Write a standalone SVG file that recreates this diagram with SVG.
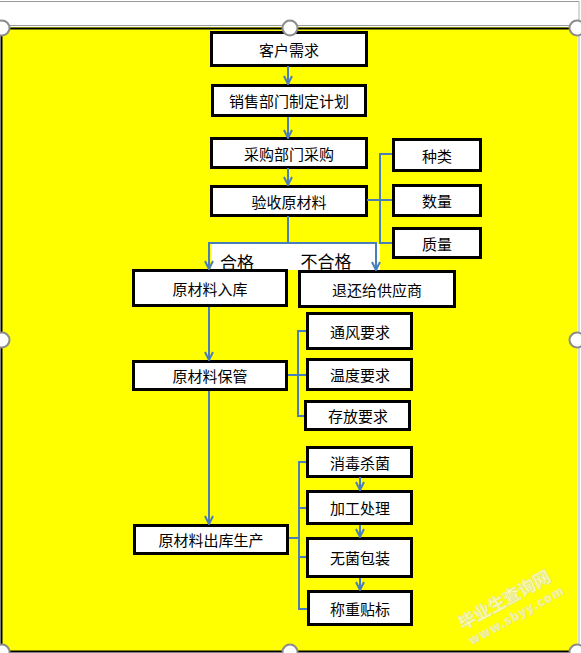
<svg xmlns="http://www.w3.org/2000/svg" width="581" height="653" viewBox="0 0 581 653">
<defs>
<style>
.bx{fill:#fff;stroke:#000;stroke-width:3}
.t{font-family:"Noto Sans CJK SC","Liberation Sans",sans-serif;font-size:15px;fill:#000;text-anchor:middle;dominant-baseline:central}
.lb{font-family:"Noto Sans CJK SC","Liberation Sans",sans-serif;font-size:17px;fill:#000;text-anchor:middle;dominant-baseline:central}
.c{fill:none;stroke:#4a7ebb;stroke-width:2}
.h{fill:#fff;stroke:#8c8c8c;stroke-width:2}
.wm{font-family:"Noto Sans CJK SC","Liberation Serif",serif;font-weight:bold;fill:#fff;stroke:#e0e0e0;stroke-width:0.8;opacity:0.7}
</style>
<marker id="ar" viewBox="0 0 10 10" refX="9" refY="5" markerWidth="10" markerHeight="10" markerUnits="userSpaceOnUse" orient="auto">
<path d="M1,1 L9,5 L1,9" fill="none" stroke="#4a7ebb" stroke-width="2"/>
</marker>
</defs>
<rect x="0" y="0" width="581" height="653" fill="#fff"/>
<g id="frame">
<line x1="0" y1="1.5" x2="579" y2="1.5" stroke="#9a9a9a" stroke-width="1"/>
<line x1="579" y1="1" x2="579" y2="653" stroke="#b0b0b0" stroke-width="1"/>
<line x1="0" y1="25.5" x2="579" y2="25.5" stroke="#9a9a9a" stroke-width="1"/>
<rect x="1" y="27" width="576" height="625" fill="#ffff00"/>
<path d="M577,28.5 H1.5 V651.5 H577" fill="none" stroke="#000" stroke-width="2"/>
</g>
<g id="labels-bg">
<rect x="211" y="244" width="169" height="26" fill="#fff"/>
</g>
<g id="n1"><rect class="bx" x="211.5" y="32.5" width="155" height="33"/><text class="t" x="289" y="49">客户需求</text></g>
<g id="n2"><rect class="bx" x="212.5" y="85.5" width="153" height="30"/><text class="t" x="289" y="100.5">销售部门制定计划</text></g>
<g id="n3"><rect class="bx" x="211.5" y="138.5" width="155" height="29"/><text class="t" x="289" y="153">采购部门采购</text></g>
<g id="n4"><rect class="bx" x="211.5" y="186.5" width="155" height="29"/><text class="t" x="289" y="201">验收原材料</text></g>
<g id="n5"><rect class="bx" x="393.5" y="139.5" width="87" height="31"/><text class="t" x="437" y="155">种类</text></g>
<g id="n6"><rect class="bx" x="393.5" y="185.5" width="87" height="30"/><text class="t" x="437" y="200.5">数量</text></g>
<g id="n7"><rect class="bx" x="393.5" y="228.5" width="87" height="29"/><text class="t" x="437" y="243">质量</text></g>
<g id="n8"><rect class="bx" x="133.5" y="270.5" width="153" height="35"/><text class="t" x="210" y="288">原材料入库</text></g>
<g id="n9"><rect class="bx" x="299.5" y="271.5" width="155" height="35"/><text class="t" x="377" y="289">退还给供应商</text></g>
<g id="n10"><rect class="bx" x="133.5" y="361.5" width="153" height="28"/><text class="t" x="210" y="375.5">原材料保管</text></g>
<g id="n11"><rect class="bx" x="307.5" y="313.5" width="104" height="35"/><text class="t" x="360" y="331">通风要求</text></g>
<g id="n12"><rect class="bx" x="307.5" y="359.5" width="104" height="30"/><text class="t" x="360" y="374.5">温度要求</text></g>
<g id="n13"><rect class="bx" x="305.5" y="401.5" width="104" height="28"/><text class="t" x="358" y="415.5">存放要求</text></g>
<g id="n14"><rect class="bx" x="134.5" y="525.5" width="153" height="28"/><text class="t" x="211" y="539.5">原材料出库生产</text></g>
<g id="n15"><rect class="bx" x="307.5" y="447.5" width="104" height="29"/><text class="t" x="360" y="462">消毒杀菌</text></g>
<g id="n16"><rect class="bx" x="307.5" y="491.5" width="104" height="32"/><text class="t" x="360" y="507.5">加工处理</text></g>
<g id="n17"><rect class="bx" x="307.5" y="538.5" width="104" height="38"/><text class="t" x="360" y="557.5">无菌包装</text></g>
<g id="n18"><rect class="bx" x="308.5" y="591.5" width="103" height="33"/><text class="t" x="360" y="608">称重贴标</text></g>
<g id="connectors">
<path class="c" d="M288,66 V84" marker-end="url(#ar)"/>
<path class="c" d="M288,117 V138" marker-end="url(#ar)"/>
<path class="c" d="M288,168 V185" marker-end="url(#ar)"/>
<path class="c" d="M288,216 V243 H209 V269" marker-end="url(#ar)"/>
<path class="c" d="M288,243 H376 V270" marker-end="url(#ar)"/>
<path class="c" d="M367,200 H392"/>
<path class="c" d="M392,154 H380 V243 H392"/>
<path class="c" d="M209,307 V360" marker-end="url(#ar)"/>
<path class="c" d="M288,375 H306"/>
<path class="c" d="M306,331 H298 V416 H304"/>
<path class="c" d="M209,391 V524" marker-end="url(#ar)"/>
<path class="c" d="M289,538 H299"/>
<path class="c" d="M306,462 H299 V609 H307"/>
<path class="c" d="M299,508 H306"/>
<path class="c" d="M299,557 H306"/>
<path class="c" d="M360,477 V490" marker-end="url(#ar)"/>
<path class="c" d="M360,525 V537" marker-end="url(#ar)"/>
<path class="c" d="M360,578 V590" marker-end="url(#ar)"/>
</g>
<g id="edge-labels">
<text class="lb" x="237" y="261">合格</text>
<text class="lb" x="326" y="260">不合格</text>
</g>
<g id="watermark">
<text class="wm" font-size="17" transform="translate(463,630) rotate(-29)">毕业生查询网</text>
<text class="wm" font-size="12" letter-spacing="1.5" transform="translate(472,645) rotate(-29)">www.sbyy.com</text>
</g>
<g id="handles">
<circle class="h" cx="2" cy="28" r="7.5"/>
<circle class="h" cx="290" cy="28" r="7.5"/>
<circle class="h" cx="577" cy="28" r="7.5"/>
<circle class="h" cx="2" cy="340" r="7.5"/>
<circle class="h" cx="577" cy="340" r="7.5"/>
<circle class="h" cx="2" cy="652" r="7.5"/>
<circle class="h" cx="290" cy="652" r="7.5"/>
<circle class="h" cx="577" cy="652" r="7.5"/>
</g>
</svg>
